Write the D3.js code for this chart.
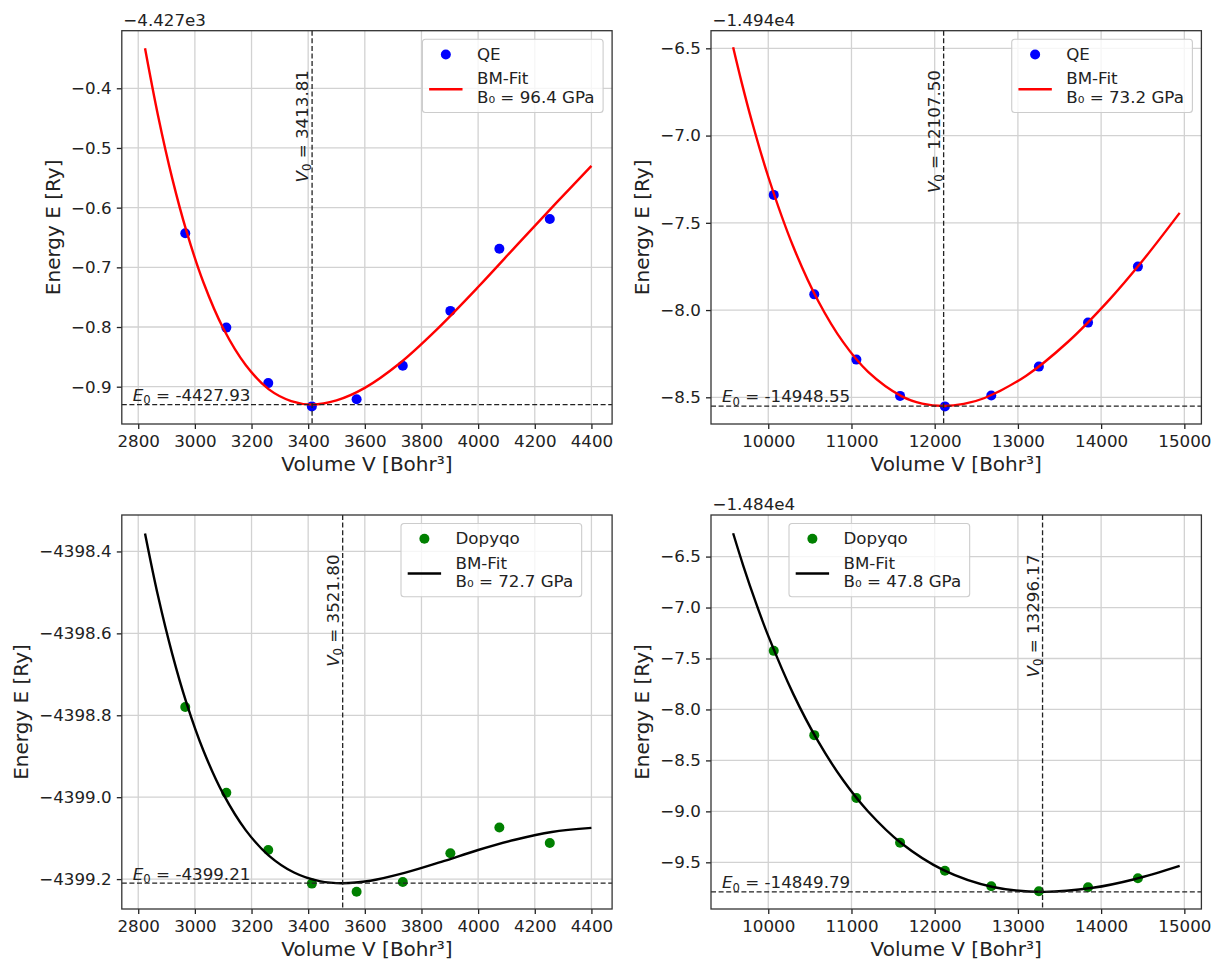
<!DOCTYPE html>
<html>
<head>
<meta charset="utf-8">
<script src="https://cdn.jsdelivr.net/npm/d3@7"></script>
<style>
  body { margin: 0; background: #fff; }
  svg text { font-family: "DejaVu Sans", sans-serif; fill: #222; }
</style>
</head>
<body>
<svg id="chart" width="1220" height="963"></svg>
<script>
// volumes of the sampled cells [Bohr^3]
var volSmall = [2966, 3111, 3259, 3413, 3571, 3734, 3902, 4075, 4253];
var volLarge = [10066, 10553, 11059, 11584, 12123, 12680, 13252, 13843, 14442];

// total energies [Ry]
var qeSmallE  = [-4427.643, -4427.801, -4427.894, -4427.933, -4427.921, -4427.865, -4427.773, -4427.669, -4427.619];
var qeLargeE  = [-14947.340, -14947.910, -14948.284, -14948.492, -14948.552, -14948.490, -14948.324, -14948.072, -14947.751];
var dopSmallE = [-4398.780, -4398.989, -4399.129, -4399.211, -4399.231, -4399.207, -4399.137, -4399.074, -4399.112];
var dopLargeE = [-14847.425, -14848.252, -14848.869, -14849.307, -14849.582, -14849.735, -14849.784, -14849.745, -14849.657];

// fitted curves
var fitQeSmallV = [2824, 2870, 2920, 2970, 3030, 3100, 3180, 3260, 3340, 3413.81, 3500, 3600, 3720, 3850, 4000, 4150, 4280, 4400];
var fitQeSmallE = [-4427.333, -4427.446, -4427.551, -4427.639, -4427.725, -4427.802, -4427.864, -4427.904, -4427.924, -4427.930,
                   -4427.923, -4427.902, -4427.862, -4427.806, -4427.733, -4427.656, -4427.590, -4427.530];
var fitQeLargeV = [9578, 9680, 9800, 10000, 10300, 10600, 10900, 11200, 11600, 11850, 12107.5, 12350, 12600, 13100, 13600, 14100, 14500, 14944];
var fitQeLargeE = [-14946.494, -14946.695, -14946.913, -14947.236, -14947.636, -14947.948, -14948.184, -14948.354, -14948.493,
                   -14948.536, -14948.550, -14948.538, -14948.504, -14948.376, -14948.183, -14947.940, -14947.716, -14947.443];
var fitDopSmallV = [2824, 2870, 2920, 2970, 3030, 3100, 3180, 3260, 3350, 3440, 3521.8, 3620, 3740, 3870, 4000, 4130, 4260, 4400];
var fitDopSmallE = [-4398.356, -4398.509, -4398.650, -4398.769, -4398.886, -4398.992, -4399.081, -4399.142, -4399.184, -4399.205,
                    -4399.210, -4399.204, -4399.185, -4399.158, -4399.129, -4399.104, -4399.085, -4399.075];
var fitDopLargeV = [9578, 9700, 9850, 10000, 10300, 10600, 10900, 11200, 11600, 12100, 12700, 13296.17, 13900, 14400, 14944];
var fitDopLargeE = [-14846.271, -14846.590, -14846.950, -14847.278, -14847.847, -14848.314, -14848.695, -14849.001, -14849.313,
                    -14849.574, -14849.742, -14849.790, -14849.750, -14849.666, -14849.535];

// fit results
var fitV0 = [3413.81, 12107.50, 3521.80, 13296.17];
var fitE0 = [-4427.93, -14948.55, -4399.21, -14849.79];
var fitB0 = ["96.4", "73.2", "72.7", "47.8"];
var seriesNames = ["QE", "QE", "Dopyqo", "Dopyqo"];

// axis ticks
var xTicksSmall = [2800, 3000, 3200, 3400, 3600, 3800, 4000, 4200, 4400];
var xTicksLarge = [10000, 11000, 12000, 13000, 14000, 15000];
var yTicksQeSmall  = [-4427.9, -4427.8, -4427.7, -4427.6, -4427.5, -4427.4];
var yTicksQeLarge  = [-14948.5, -14948.0, -14947.5, -14947.0, -14946.5];
var yTicksDopSmall = [-4399.2, -4399.0, -4398.8, -4398.6, -4398.4];
var yTicksDopLarge = [-14849.5, -14849.0, -14848.5, -14848.0, -14847.5, -14847.0, -14846.5];
var yOffsets = [-4427, -14940, 0, -14840];
var offsetLabels = ["\u22124.427e3", "\u22121.494e4", "", "\u22121.484e4"];

var panels = [
  { v: volSmall, e: qeSmallE, fv: fitQeSmallV, fe: fitQeSmallE, xTicks: xTicksSmall, yTicks: yTicksQeSmall,
    xDomain: [2742, 4473], yDomain: [-4427.9625, -4427.3035],
    left: 121.8, top: 30.7, w: 490.3, h: 393.3, dot: "#0000ff", line: "#ff0000", legendRight: 9 },
  { v: volLarge, e: qeLargeE, fv: fitQeLargeV, fe: fitQeLargeE, xTicks: xTicksLarge, yTicks: yTicksQeLarge,
    xDomain: [9312, 15205], yDomain: [-14948.653, -14946.399],
    left: 711, top: 30.7, w: 490.4, h: 393.3, dot: "#0000ff", line: "#ff0000", legendRight: 9 },
  { v: volSmall, e: dopSmallE, fv: fitDopSmallV, fe: fitDopSmallE, xTicks: xTicksSmall, yTicks: yTicksDopSmall,
    xDomain: [2742, 4473], yDomain: [-4399.273, -4398.311],
    left: 121.8, top: 515, w: 490.3, h: 394, dot: "#008000", line: "#000000", legendLeft: 279.2 },
  { v: volLarge, e: dopLargeE, fv: fitDopLargeV, fe: fitDopLargeE, xTicks: xTicksLarge, yTicks: yTicksDopLarge,
    xDomain: [9312, 15205], yDomain: [-14849.958, -14846.092],
    left: 711, top: 515, w: 490.4, h: 394, dot: "#008000", line: "#000000", legendLeft: 78 }
];

var svg = d3.select("#chart");
var fs = 16.7;   // 10pt
var ink = "#222";

var minus = s => s.replace("-", "\u2212");

panels.forEach(function(p, i) {
  var g = svg.append("g").attr("transform", `translate(${p.left},${p.top})`);
  var x = d3.scaleLinear().domain(p.xDomain).range([0, p.w]);
  var y = d3.scaleLinear().domain(p.yDomain).range([p.h, 0]);

  // grid
  var grid = g.append("g").attr("stroke", "#d2d2d2").attr("stroke-width", 1.3);
  grid.selectAll(".gx").data(p.xTicks).join("line")
    .attr("x1", d => x(d)).attr("x2", d => x(d)).attr("y1", 0).attr("y2", p.h);
  grid.selectAll(".gy").data(p.yTicks).join("line")
    .attr("x1", 0).attr("x2", p.w).attr("y1", d => y(d)).attr("y2", d => y(d));

  // axes
  var xAxis = g.append("g").attr("transform", `translate(0,${p.h})`)
    .call(d3.axisBottom(x).tickValues(p.xTicks).tickSize(5).tickSizeOuter(0).tickPadding(6.5).tickFormat(d3.format("d")));
  var yAxis = g.append("g")
    .call(d3.axisLeft(y).tickValues(p.yTicks).tickSize(5).tickSizeOuter(0).tickPadding(5.2)
      .tickFormat(d => minus((d - yOffsets[i]).toFixed(1))));
  [xAxis, yAxis].forEach(function(a) {
    a.select(".domain").remove();
    a.selectAll(".tick line").attr("stroke", ink).attr("stroke-width", 1.3);
    a.selectAll(".tick text").attr("fill", ink).style("font-size", fs + "px").style("font-family", "DejaVu Sans");
  });

  // data points
  g.append("g").selectAll("circle").data(p.v).join("circle")
    .attr("cx", d => x(d)).attr("cy", (d, j) => y(p.e[j])).attr("r", 5)
    .attr("fill", p.dot);

  // fit
  var fitLine = d3.line().x(d => x(d)).y((d, j) => y(p.fe[j])).curve(d3.curveCatmullRom.alpha(0.5));
  g.append("path").datum(p.fv).attr("d", fitLine)
    .attr("fill", "none").attr("stroke", p.line).attr("stroke-width", 2.4);

  // V0 / E0 markers
  var dash = g.append("g").attr("stroke", ink).attr("stroke-width", 1.3).attr("stroke-dasharray", "5,2.6");
  dash.append("line").attr("x1", x(fitV0[i])).attr("x2", x(fitV0[i])).attr("y1", 0).attr("y2", p.h);
  dash.append("line").attr("x1", 0).attr("x2", p.w).attr("y1", y(fitE0[i])).attr("y2", y(fitE0[i]));

  var vt = g.append("text")
    .attr("transform", `translate(${x(fitV0[i]) - 4},${p.h * 0.1}) rotate(-90)`)
    .attr("text-anchor", "end").style("font-size", fs + "px");
  vt.append("tspan").style("font-style", "italic").text("V");
  vt.append("tspan").attr("dy", 3.4).style("font-size", "11.7px").text("0");
  vt.append("tspan").attr("dy", -3.4).text(" = " + fitV0[i].toFixed(2));

  var et = g.append("text").attr("x", 11).attr("y", y(fitE0[i]) - 3.6).style("font-size", fs + "px");
  et.append("tspan").style("font-style", "italic").text("E");
  et.append("tspan").attr("dy", 3.4).style("font-size", "11.7px").text("0");
  et.append("tspan").attr("dy", -3.4).text(" = " + fitE0[i].toFixed(2));

  // offset text
  if (offsetLabels[i]) {
    g.append("text").attr("x", 1.5).attr("y", -5).style("font-size", fs + "px").text(offsetLabels[i]);
  }

  // frame
  g.append("rect").attr("width", p.w).attr("height", p.h)
    .attr("fill", "none").attr("stroke", "#333").attr("stroke-width", 1.3);

  // legend
  var lg = g.append("g");
  var box = lg.append("rect").attr("rx", 3).attr("ry", 3)
    .attr("fill", "#fff").attr("fill-opacity", 0.8).attr("stroke", "#cccccc").attr("stroke-width", 1.1);
  lg.append("circle").attr("cx", 23.4).attr("cy", 15.3).attr("r", 5).attr("fill", p.dot);
  lg.append("line").attr("x1", 6.7).attr("x2", 40.1).attr("y1", 50).attr("y2", 50)
    .attr("stroke", p.line).attr("stroke-width", 2.4);
  var t1 = lg.append("text").attr("x", 54.5).attr("y", 20.8).style("font-size", fs + "px").text(seriesNames[i]);
  var t2 = lg.append("text").attr("x", 54.5).attr("y", 45).style("font-size", fs + "px").text("BM-Fit");
  var t3 = lg.append("text").attr("x", 54.5).attr("y", 63.7).style("font-size", fs + "px")
    .text("B\u2080 = " + fitB0[i] + " GPa");
  var tw = d3.max([t1, t2, t3], t => t.node().getComputedTextLength());
  var bw = 54.5 + tw + 8.5;
  box.attr("width", bw).attr("height", 73.3);
  var lx = p.legendRight !== undefined ? p.w - p.legendRight - bw : p.legendLeft;
  lg.attr("transform", `translate(${lx},8.5)`);

  // axis labels
  g.append("text").attr("x", p.w / 2).attr("y", p.h + 47.3).attr("text-anchor", "middle")
    .style("font-size", "20px").text("Volume V [Bohr\u00b3]");
  var yb = yAxis.node().getBBox();
  g.append("text")
    .attr("transform", `translate(${yb.x - 18},${p.h / 2}) rotate(-90)`)
    .attr("text-anchor", "middle").attr("dy", "0.36em")
    .style("font-size", "20px").text("Energy E [Ry]");
});
</script>
</body>
</html>
